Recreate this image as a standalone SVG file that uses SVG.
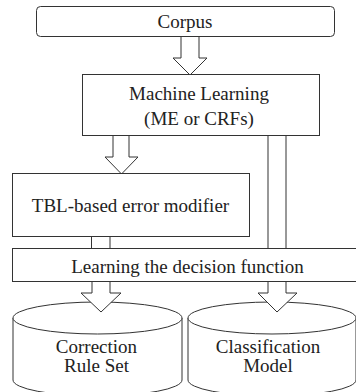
<svg xmlns="http://www.w3.org/2000/svg" width="356" height="392" viewBox="0 0 356 392">
<style>
.b{fill:#fff;stroke:#333;stroke-width:1}
.t{font-family:"Liberation Serif","Times New Roman",serif;font-size:19px;fill:#222;text-anchor:middle}
</style>
<rect width="356" height="392" fill="#fff"/>
<g id="classification-model">
<path class="b" d="M188,318 V380 A84,16 0 0 0 356,380 V318"/>
<ellipse class="b" cx="272" cy="318" rx="84" ry="16"/>
<text class="t" x="268" y="352.5">Classification</text>
<text class="t" x="268" y="372">Model</text>
</g>
<g id="correction-rule-set">
<path class="b" d="M13,318 V380 A84.5,16 0 0 0 182,380 V318"/>
<ellipse class="b" cx="97.5" cy="318" rx="84.5" ry="16"/>
<text class="t" x="96.5" y="352.5">Correction</text>
<text class="t" x="96.5" y="372">Rule Set</text>
</g>
<g id="connectors">
<polygon class="b" points="181,36.5 199,36.5 199,58 207,58 190,75 173,58 181,58"/>
<polygon class="b" points="113,135.5 129,135.5 129,157 138,157 121.5,174 105,157 113,157"/>
<rect class="b" x="91.5" y="236.5" width="18.5" height="12"/>
<rect class="b" x="268" y="135.5" width="18" height="113"/>
<polygon class="b" points="92,281.5 110,281.5 110,293 121,293 101,312 81,293 92,293"/>
<polygon class="b" points="268,281.5 286,281.5 286,293 297,293 277,312 258,293 268,293"/>
</g>
<g id="corpus">
<rect class="b" x="36.5" y="6.5" width="298" height="30" rx="4"/>
<text class="t" x="185" y="28">Corpus</text>
</g>
<g id="machine-learning">
<rect class="b" x="82.5" y="74.5" width="237" height="61"/>
<text class="t" x="199" y="100">Machine Learning</text>
<text class="t" x="199" y="125">(ME or CRFs)</text>
</g>
<g id="tbl-modifier">
<rect class="b" x="12.5" y="173.5" width="237" height="63"/>
<text class="t" x="130.5" y="211.5">TBL-based error modifier</text>
</g>
<g id="learning-decision">
<rect class="b" x="12.5" y="248.5" width="350" height="33"/>
<text class="t" x="187.5" y="273">Learning the decision function</text>
</g>
</svg>
